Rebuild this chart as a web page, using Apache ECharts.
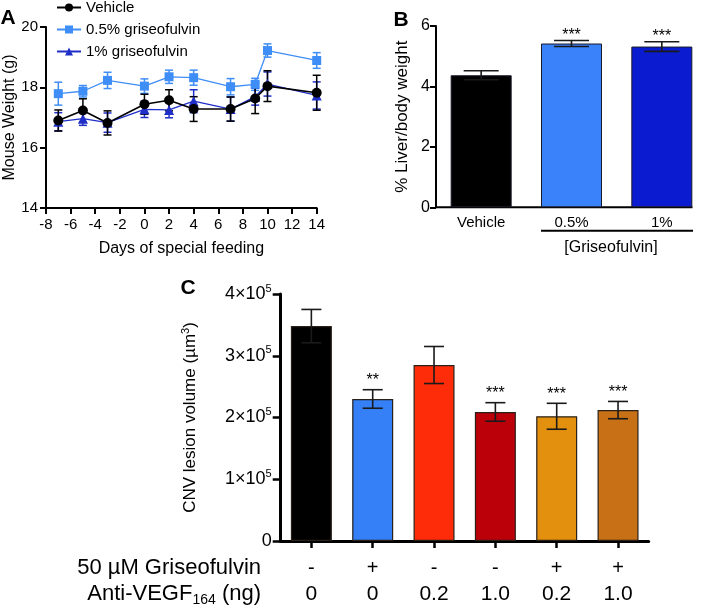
<!DOCTYPE html>
<html><head><meta charset="utf-8">
<script src="https://cdn.jsdelivr.net/npm/echarts@6/dist/echarts.min.js"></script>
<style>html,body{margin:0;padding:0;background:#fff}#c{width:709px;height:610px}</style>
</head><body><div id="c"></div>
<script>
// ---------- Panel A data ----------
const days = [-7, -5, -3, 0, 2, 4, 7, 9, 10, 14];
const vehicleMean = [16.90, 17.23, 16.82, 17.44, 17.57, 17.28, 17.28, 17.63, 18.04, 17.82];
const vehicleSem  = [0.35, 0.39, 0.40, 0.33, 0.35, 0.41, 0.40, 0.50, 0.51, 0.58];
const griseo05Mean = [17.79, 17.87, 18.23, 18.04, 18.35, 18.32, 18.02, 18.10, 19.22, 18.89];
const griseo05Sem  = [0.38, 0.19, 0.27, 0.24, 0.22, 0.25, 0.27, 0.20, 0.22, 0.26];
const griseo1Mean = [16.86, 16.96, 16.83, 17.27, 17.25, 17.54, 17.28, 17.69, 18.11, 17.73];
const griseo1Sem  = [0.30, 0.22, 0.32, 0.27, 0.26, 0.38, 0.40, 0.28, 0.40, 0.45];
const seriesNamesA = ['Vehicle', '0.5% griseofulvin', '1% griseofulvin'];
// ---------- Panel B data ----------
const catsB = ['Vehicle', '0.5%', '1%'];
const liverMean = [4.37, 5.42, 5.32];
const liverSem = [0.15, 0.10, 0.16];
const starsB = ['', '***', '***'];
// ---------- Panel C data ----------
const griseoflag = ['-', '+', '-', '-', '+', '+'];
const antiVegf = ['0', '0', '0.2', '1.0', '0.2', '1.0'];
const cnvMean = [348000, 230000, 285000, 209000, 202000, 212000];
const cnvSem  = [27000, 15000, 30000, 15000, 21000, 14000];
const starsC = ['', '**', '', '***', '***', '***'];
const yTicksC = [0, 100000, 200000, 300000, 400000];

// ---------- styles ----------
const FONT = "'Liberation Sans', Arial, Helvetica, sans-serif";
const colA = ['#000000', '#3f8ef7', '#1f2fc8'];
const colB = ['#000000', '#3a82fa', '#0a1bd0'];
const colC = ['#000000', '#3580f7', '#ff2c0a', '#bb000a', '#e3900f', '#c87015'];

const catsC = griseoflag.map((g, i) => g + '/' + antiVegf[i]);

function errRender(color, capW, lw, stars, starFont, starGap) {
  return function (params, api) {
    const x = api.value(0), m = api.value(1), s = api.value(2);
    const top = api.coord([x, m + s]), bot = api.coord([x, m - s]);
    const h = capW / 2;
    const st = { stroke: color, lineWidth: lw };
    const children = [
      { type: 'line', shape: { x1: top[0], y1: top[1], x2: bot[0], y2: bot[1] }, style: st },
      { type: 'line', shape: { x1: top[0] - h, y1: top[1], x2: top[0] + h, y2: top[1] }, style: st },
      { type: 'line', shape: { x1: bot[0] - h, y1: bot[1], x2: bot[0] + h, y2: bot[1] }, style: st }
    ];
    if (stars && stars[params.dataIndex]) {
      children.push({ type: 'text', x: top[0], y: top[1] - starGap,
        style: { text: stars[params.dataIndex], fill: '#000', font: starFont, align: 'center', verticalAlign: 'middle' } });
    }
    return { type: 'group', children };
  };
}

const axisBase = (w) => ({
  axisLine: { show: true, onZero: false, lineStyle: { color: '#000', width: w } },
  axisTick: { show: true, inside: false, length: 6, lineStyle: { color: '#000', width: w } },
  splitLine: { show: false }
});

const meansA = [vehicleMean, griseo05Mean, griseo1Mean];
const semsA = [vehicleSem, griseo05Sem, griseo1Sem];
const symA = ['circle', 'rect', 'triangle'];
const symSizeA = [10, 9, 10];

const series = [];
[1, 2, 0].forEach(k => {
  series.push({
    type: 'custom', xAxisIndex: 0, yAxisIndex: 0, z: 2, silent: true,
    renderItem: errRender(colA[k], 8, 1.5),
    data: days.map((d, i) => [d, meansA[k][i], semsA[k][i]])
  });
});
[1, 2, 0].forEach(k => {
  series.push({
    type: 'line', name: seriesNamesA[k], xAxisIndex: 0, yAxisIndex: 0, z: 3,
    symbol: symA[k], symbolSize: symSizeA[k], showAllSymbol: true,
    itemStyle: { color: colA[k] },
    lineStyle: { color: colA[k], width: k === 0 ? 1.6 : 1.3 },
    data: days.map((d, i) => [d, meansA[k][i]])
  });
});
// Panel B
series.push({
  type: 'bar', xAxisIndex: 1, yAxisIndex: 1, barWidth: 61, z: 2,
  data: liverMean.map((v, i) => ({ value: v, itemStyle: { color: colB[i], borderColor: '#1a1a2a', borderWidth: 1 } }))
});
series.push({
  type: 'custom', xAxisIndex: 1, yAxisIndex: 1, z: 3, silent: true,
  renderItem: errRender('#1a1a1a', 35, 1.6, starsB, '16px ' + FONT, 5),
  data: liverMean.map((v, i) => [i, v, liverSem[i]])
});
// Panel C
series.push({
  type: 'bar', xAxisIndex: 2, yAxisIndex: 2, barWidth: 41, z: 2,
  data: cnvMean.map((v, i) => ({ value: v, itemStyle: { color: colC[i], borderColor: '#2a2018', borderWidth: 1.2 } }))
});
series.push({
  type: 'custom', xAxisIndex: 2, yAxisIndex: 2, z: 3, silent: true,
  renderItem: errRender('#1a1a1a', 20, 1.6, starsC, '16px ' + FONT, 9),
  data: cnvMean.map((v, i) => [i, v, cnvSem[i]])
});

const option = {
  animation: false,
  backgroundColor: '#fff',
  textStyle: { fontFamily: FONT, color: '#000' },
  legend: {
    data: seriesNamesA, orient: 'vertical', left: 56, top: 0, padding: 0,
    itemWidth: 24, itemHeight: 10, itemGap: 7,
    textStyle: { fontSize: 15, color: '#000', fontFamily: FONT }
  },
  grid: [
    { left: 46, top: 27, width: 270.7, height: 181, outerBoundsMode: 'none' },
    { left: 436, top: 26, width: 271, height: 181.3, outerBoundsMode: 'none' },
    { left: 280.7, top: 294, width: 368, height: 247, outerBoundsMode: 'none' }
  ],
  xAxis: [
    Object.assign(axisBase(2), {
      type: 'value', gridIndex: 0, min: -8, max: 14, interval: 2,
      axisLabel: { fontSize: 15, color: '#000', margin: 9 },
      name: 'Days of special feeding', nameLocation: 'middle', nameGap: 33,
      nameTextStyle: { fontSize: 16, color: '#000' }
    }),
    {
      type: 'category', gridIndex: 1, data: catsB,
      axisLine: { show: false }, axisTick: { show: false }, splitLine: { show: false },
      axisLabel: { fontSize: 15, color: '#000', margin: 8 }
    },
    Object.assign(axisBase(3), {
      type: 'category', gridIndex: 2, data: catsC,
      axisTick: { show: true, alignWithLabel: true, length: 7, lineStyle: { color: '#000', width: 2.5 } },
      axisLabel: {
        margin: 14, interval: 0,
        formatter: (v, idx) => '{a|' + griseoflag[idx] + '}\n{b|' + antiVegf[idx] + '}',
        rich: {
          a: { fontSize: 20, lineHeight: 26, color: '#000', fontFamily: FONT },
          b: { fontSize: 21, lineHeight: 26, color: '#000', fontFamily: FONT }
        }
      }
    })
  ],
  yAxis: [
    Object.assign(axisBase(2), {
      type: 'value', gridIndex: 0, min: 14, max: 20, interval: 2,
      axisLabel: { fontSize: 15, color: '#000', margin: 8 },
      name: 'Mouse Weight (g)', nameLocation: 'middle', nameGap: 27,
      nameTextStyle: { fontSize: 16, color: '#000' }
    }),
    Object.assign(axisBase(2), {
      type: 'value', gridIndex: 1, min: 0, max: 6, interval: 2,
      axisLabel: { fontSize: 16, color: '#000', margin: 6 },
      name: '% Liver/body weight', nameLocation: 'middle', nameGap: 25,
      nameTextStyle: { fontSize: 17, color: '#000' }
    }),
    Object.assign(axisBase(3), {
      type: 'value', gridIndex: 2, min: yTicksC[0], max: yTicksC[yTicksC.length - 1], interval: yTicksC[1] - yTicksC[0],
      axisTick: { show: true, length: 8, lineStyle: { color: '#000', width: 2.5 } },
      axisLabel: {
        margin: 9,
        formatter: v => v === 0 ? '{n|0}' : '{n|' + (v / 100000) + '×10}{s|5}',
        rich: {
          n: { fontSize: 18, lineHeight: 22, color: '#000', fontFamily: FONT },
          s: { fontSize: 11, lineHeight: 12, verticalAlign: 'top', color: '#000', fontFamily: FONT }
        }
      },
      name: '{n|CNV lesion volume (µm}{s|3}{n|)}', nameLocation: 'middle', nameGap: 80,
      nameTextStyle: {
        rich: {
          n: { fontSize: 17, lineHeight: 20, color: '#000', fontFamily: FONT },
          s: { fontSize: 11, lineHeight: 12, verticalAlign: 'top', color: '#000', fontFamily: FONT }
        }
      }
    })
  ],
  series: series,
  graphic: [
    { type: 'text', x: 8, y: 18, style: { text: 'A', font: 'bold 21px ' + FONT, fill: '#000', align: 'center', verticalAlign: 'middle' } },
    { type: 'text', x: 401, y: 20, style: { text: 'B', font: 'bold 21px ' + FONT, fill: '#000', align: 'center', verticalAlign: 'middle' } },
    { type: 'text', x: 188, y: 288, style: { text: 'C', font: 'bold 21px ' + FONT, fill: '#000', align: 'center', verticalAlign: 'middle' } },
    { type: 'line', shape: { x1: 435, y1: 207.3, x2: 692.5, y2: 207.3 }, style: { stroke: '#000', lineWidth: 2 } },
    { type: 'line', shape: { x1: 541, y1: 230.7, x2: 693, y2: 230.7 }, style: { stroke: '#000', lineWidth: 2 } },
    { type: 'text', x: 611, y: 248, style: { text: '[Griseofulvin]', font: '16px ' + FONT, fill: '#000', align: 'center', verticalAlign: 'middle' } },
    { type: 'text', x: 261, y: 568, style: { text: '50 µM Griseofulvin', font: '22px ' + FONT, fill: '#000', align: 'right', verticalAlign: 'middle' } },
    { type: 'text', x: 261, y: 594, style: {
        text: '{n|Anti-VEGF}{s|164}{n| (ng)}', align: 'right', verticalAlign: 'middle',
        rich: {
          n: { fontSize: 22, lineHeight: 26, fill: '#000', fontFamily: FONT },
          s: { fontSize: 14, lineHeight: 14, verticalAlign: 'bottom', fill: '#000', fontFamily: FONT }
        } } }
  ]
};
const chart = echarts.init(document.getElementById('c'), null, { renderer: 'canvas' });
chart.setOption(option);
</script>
</body></html>
